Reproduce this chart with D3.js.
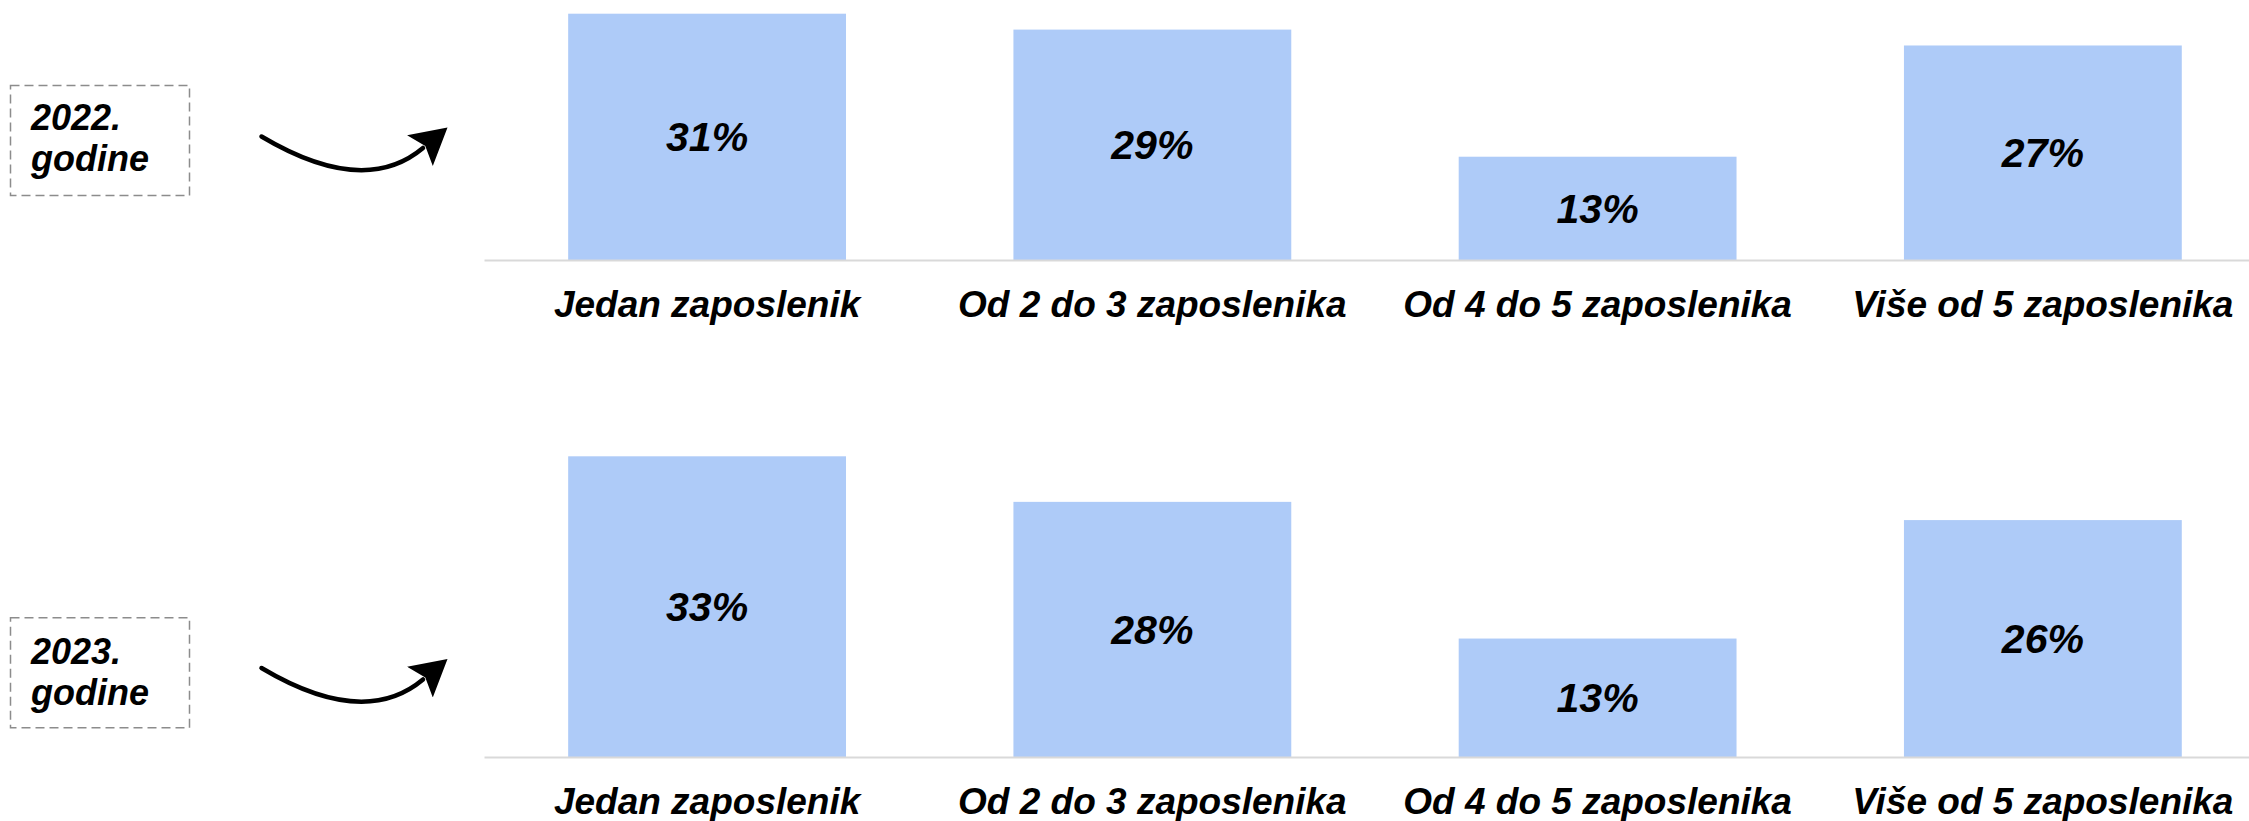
<!DOCTYPE html>
<html>
<head>
<meta charset="utf-8">
<script src="https://cdn.jsdelivr.net/npm/d3@7"></script>
<style>
    body { margin: 0; background: #fff; }
    svg text { font-family: "Liberation Sans", Arial, sans-serif; font-weight: bold; font-style: italic; fill: #000; }
</style>
</head>
<body>
<svg id="chart"></svg>
<script>
// Data
const categories = ['Jedan zaposlenik', 'Od 2 do 3 zaposlenika', 'Od 4 do 5 zaposlenika', 'Više od 5 zaposlenika'];
const values2022 = [31, 29, 13, 27];
const values2023 = [33, 28, 13, 26];
const yearLabels = ['2022.', '2023.'];
const yearSubLabel = 'godine';

function whenDocumentLoaded(action) {
    if (document.readyState === "loading") {
        document.addEventListener("DOMContentLoaded", action);
    } else {
        action();
    }
}

function drawPanel(svg, values, base, maxTop, xScale) {
    // y scale: 0 on the baseline, the largest value at maxTop
    const yScale = d3.scaleLinear()
        .domain([0, d3.max(values)])
        .range([base, maxTop]);
    const data = categories.map((c, i) => ({ cat: c, value: values[i] }));

    const g = svg.append('g');
    g.selectAll('rect')
        .data(data)
        .join('rect')
        .attr('x', d => xScale(d.cat))
        .attr('y', d => yScale(d.value))
        .attr('width', xScale.bandwidth())
        .attr('height', d => yScale(0) - yScale(d.value))
        .attr('fill', '#aecbf8');

    g.selectAll('text.val')
        .data(data)
        .join('text')
        .attr('class', 'val')
        .attr('x', d => xScale(d.cat) + xScale.bandwidth() / 2)
        .attr('y', d => (yScale(0) + yScale(d.value)) / 2)
        .attr('dy', '0.35em')
        .attr('text-anchor', 'middle')
        .style('font-size', '41px')
        .text(d => d.value + '%');

    // Axis
    const xAxis = d3.axisBottom(xScale)
        .tickSize(0)
        .tickSizeOuter(0)
        .tickPadding(31);
    const ax = svg.append('g')
        .attr('transform', `translate(0,${base})`)
        .call(xAxis);
    ax.select('.domain')
        .attr('stroke', '#d9d9d9')
        .attr('stroke-width', 2);
    ax.selectAll('text')
        .style('font-size', '37px')
        .attr('fill', '#000');
}

function drawYearBox(svg, label, top, textBase) {
    svg.append('rect')
        .attr('x', 10.5)
        .attr('y', top)
        .attr('width', 179)
        .attr('height', 110)
        .attr('fill', 'none')
        .attr('stroke', '#8c8c8c')
        .attr('stroke-width', 1.5)
        .attr('stroke-dasharray', '9,5');
    const t = svg.append('text')
        .attr('x', 31)
        .attr('y', textBase)
        .style('font-size', '36px');
    t.append('tspan').attr('x', 31).text(label);
    t.append('tspan').attr('x', 31).attr('dy', 41).text(yearSubLabel);
}

function drawArrow(svg, y0) {
    // curved arrow from the year box to the chart
    const p = d3.path();
    p.moveTo(261.5, y0);
    p.quadraticCurveTo(364, y0 + 61, 423, y0 + 11.5);
    svg.append('path')
        .attr('d', p.toString())
        .attr('fill', 'none')
        .attr('stroke', '#000')
        .attr('stroke-width', 4.5)
        .attr('stroke-linecap', 'round')
        .attr('marker-end', 'url(#head)');
}

whenDocumentLoaded(() => {
    const width = 2249;
    const height = 821;
    const svg = d3.select('#chart')
        .attr('width', width)
        .attr('height', height);

    svg.append('defs').append('marker')
        .attr('id', 'head')
        .attr('markerUnits', 'userSpaceOnUse')
        .attr('viewBox', '0 -21 40 42')
        .attr('refX', 4)
        .attr('refY', 0)
        .attr('markerWidth', 40)
        .attr('markerHeight', 42)
        .attr('orient', 'auto')
        .append('path')
        .attr('d', 'M0,-20L36,0L0,20L7,0Z')
        .attr('fill', '#000');

    const xScale = d3.scaleBand()
        .domain(categories)
        .range([484, width])
        .paddingInner(0.376)
        .paddingOuter(0.17)
        .align(0.556);

    drawPanel(svg, values2022, 260, 13.7, xScale);
    drawPanel(svg, values2023, 757, 456.3, xScale);

    drawYearBox(svg, yearLabels[0], 85.5, 130);
    drawYearBox(svg, yearLabels[1], 617.7, 664);

    drawArrow(svg, 136.5);
    drawArrow(svg, 668);
});
</script>
</body>
</html>
